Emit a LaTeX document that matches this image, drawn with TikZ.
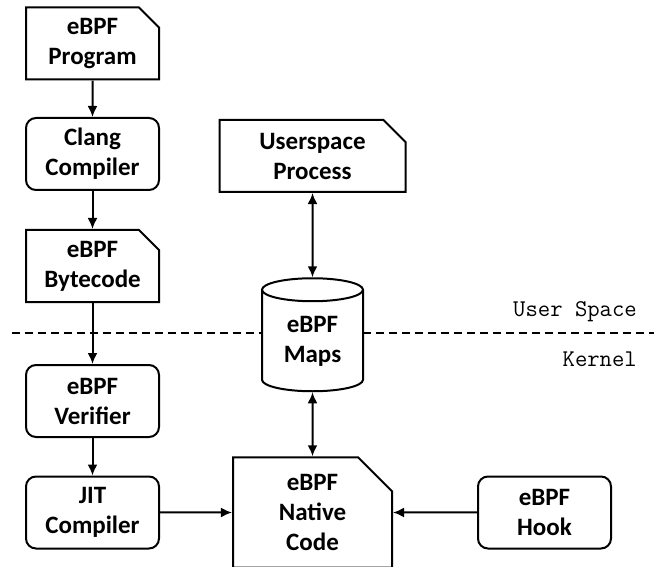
\documentclass[tikz,border=0pt]{standalone}
\usepackage{fontspec}
\setmainfont{Carlito}
\usetikzlibrary{shapes.misc,shapes.geometric,arrows.meta}

\tikzset{
  box/.style={draw, line width=2pt, align=center, inner sep=0pt,
    minimum width=133pt, minimum height=72pt,
    font=\bfseries\fontsize{25}{30}\selectfont},
  stage/.style={box, rounded corners=10pt},
  doc/.style={box, chamfered rectangle, chamfered rectangle corners=north east,
    chamfered rectangle xsep=10pt, chamfered rectangle ysep=10pt},
  store/.style={box, cylinder, shape border rotate=90, aspect=0.4, fill=white,
    minimum width=101pt, minimum height=113pt},
  mono/.style={font=\ttfamily\fontsize{24}{28}\selectfont, inner sep=0pt},
  arr/.style={line width=2pt, -{Latex[length=11pt,width=10pt]}},
  biarr/.style={line width=2pt, {Latex[length=11pt,width=10pt]}-{Latex[length=11pt,width=10pt]}}
}

\begin{document}
\begin{tikzpicture}[x=1pt,y=-1pt]
  \useasboundingbox (0,0) rectangle (654,567);
  % user / kernel border
  \draw [line width=2pt, dash pattern=on 8pt off 5pt] (12,333) -- (654,333);
  \node [mono, anchor=east] (uspace) at (637,312) {User Space};
  \node [mono, anchor=east] (kern) at (637,359) {Kernel};

  % build chain
  \node [doc] (prog) at (92.5,43.5) {eBPF\\Program};
  \node [stage] (clang) at (92.5,154) {Clang\\Compiler};
  \node [doc] (bytecode) at (92.5,266) {eBPF\\Bytecode};
  \node [stage] (verifier) at (92.5,401) {eBPF\\Verifier};
  \node [stage] (jit) at (92.5,512.5) {JIT\\Compiler};

  % runtime
  \node [doc, minimum width=186pt, chamfered rectangle xsep=11pt,
    chamfered rectangle ysep=11pt] (user) at (312.5,156) {Userspace\\Process};
  \node [store] (maps) at (312.5,341) {eBPF\\Maps};
  \node [doc, minimum width=159pt, minimum height=101pt, chamfered rectangle xsep=17pt,
    chamfered rectangle ysep=17pt] (native) at (312.5,512.5) {eBPF\\Native\\Code};
  \node [stage] (hook) at (544.5,512.5) {eBPF\\Hook};

  \draw [arr] (prog) -- (clang);
  \draw [arr] (clang) -- (bytecode);
  \draw [arr] (bytecode) -- (verifier);
  \draw [arr] (verifier) -- (jit);
  \draw [arr] (jit) -- (native);
  \draw [arr] (hook) -- (native);
  \draw [biarr] (user) -- (maps);
  \draw [biarr] (maps) -- (native);
\end{tikzpicture}
\end{document}
